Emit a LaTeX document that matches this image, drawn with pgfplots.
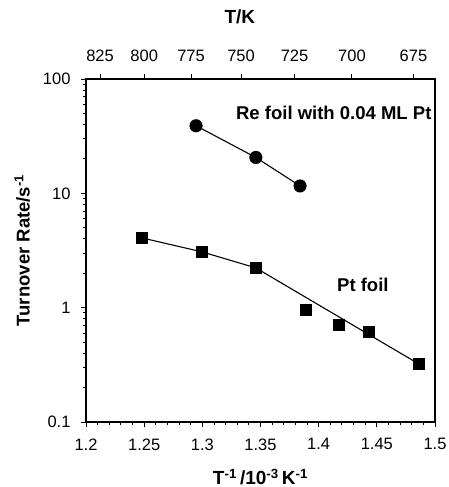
\documentclass[border=0pt]{standalone}
\usepackage{pgfplots}
\pgfplotsset{compat=1.18}
\usepackage{fontspec}
\setmainfont{Liberation Sans}
\begin{document}
\begin{tikzpicture}[font=\fontsize{16}{18}\selectfont]
\begin{axis}[
  scale only axis, width=349pt, height=343pt,
  xmin=1.2, xmax=1.5, ymode=log, ymin=0.1, ymax=100,
  xtick={1.2,1.25,1.3,1.35,1.4,1.45,1.5},
  xticklabels={1.2,1.25,1.3,1.35,1.4,1.45,1.5},
  minor x tick num=4,
  ytick={0.1,1,10,100}, yticklabels={0.1,1,10,100},
  xtick pos=bottom, ytick pos=left, tick align=outside,
  major tick length=5pt, minor tick length=3pt,
  tick style={black, line width=0.9pt},
  axis line style={line width=1.3pt},
  tick label style={font=\fontsize{16.5}{18}\selectfont},
  xticklabel style={yshift=-8pt},
  yticklabel style={xshift=-7pt},
  /pgf/number format/assume math mode=true,
  xlabel={\bfseries T\textsuperscript{-1}\,/10\textsuperscript{-3}\,K\textsuperscript{-1}},
  ylabel={\bfseries Turnover Rate/s\textsuperscript{-1}},
  xlabel style={at={(axis description cs:0.5,-0.160)}, anchor=center, font=\fontsize{19}{21}\selectfont},
  ylabel style={at={(axis description cs:-0.183,0.5)}, anchor=center, font=\fontsize{18.5}{21}\selectfont},
  clip=false,
]
\coordinate (BL) at (rel axis cs:0,0);
\coordinate (TR) at (rel axis cs:1,1);
% Re foil with 0.04 ML Pt
\addplot[black, line width=1.1pt, mark=*, mark size=6pt, mark options={fill=black}]
  coordinates {(1.2946,39) (1.346,20.6) (1.384,11.6)};
% Pt foil data
\addplot[only marks, mark=square*, mark size=5.5pt, mark options={fill=black, draw=black}]
  coordinates {(1.2479,4.08) (1.2995,3.08) (1.3459,2.23) (1.389,0.953) (1.4173,0.714) (1.4433,0.615) (1.4863,0.321)};
% Pt foil fit
\addplot[black, line width=1.1pt, no marks]
  coordinates {(1.2479,4.08) (1.2995,3.08) (1.3459,2.23) (1.4863,0.321)};
\node[font=\fontsize{18.5}{21}\bfseries] at (axis cs:1.413,50.5) {Re foil with 0.04 ML Pt};
\node[font=\fontsize{18.5}{21}\bfseries] at (axis cs:1.438,1.58) {Pt foil};
\end{axis}
\begin{axis}[
  scale only axis, width=349pt, height=343pt,
  xmin=1.2, xmax=1.5, ymin=0, ymax=1,
  axis x line*=top, axis y line=none,
  xtick={1.2121,1.25,1.2903,1.3333,1.3793,1.4286,1.4815},
  xticklabels={825,800,775,750,725,700,675},
  tick align=outside, major tick length=5pt,
  tick style={black, line width=0.9pt},
  axis line style={line width=1.3pt},
  tick label style={font=\fontsize{16.5}{18}\selectfont},
  xticklabel style={yshift=9pt},
  xlabel={\bfseries T/K},
  xlabel style={at={(axis description cs:0.441,1.181)}, anchor=center, font=\fontsize{19}{21}\selectfont},
]
\end{axis}
\pgfresetboundingbox
\path[use as bounding box] ([xshift=-86pt,yshift=-65pt]BL) rectangle ([xshift=14pt,yshift=79pt]TR);
\end{tikzpicture}
\end{document}
